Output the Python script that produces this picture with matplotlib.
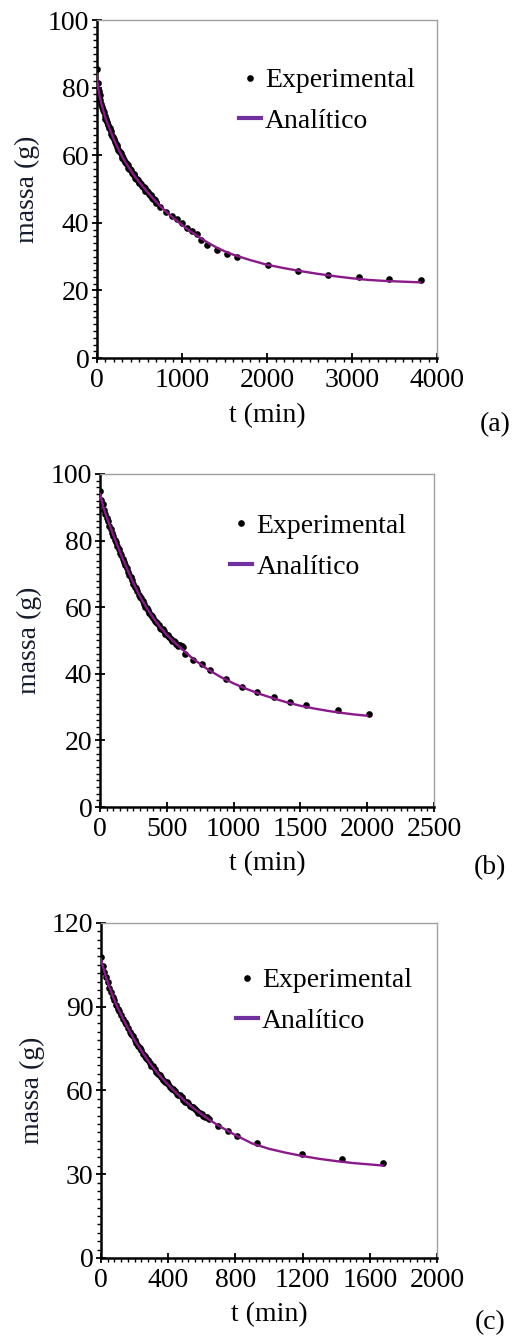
import matplotlib
matplotlib.use("Agg")
import matplotlib.pyplot as plt
from matplotlib.ticker import MultipleLocator

plt.rcParams['font.family'] = ['Liberation Serif', 'DejaVu Serif']

# (a) experimental
ta_exp = [0, 10, 20, 30, 40, 50, 60, 70, 80, 90, 100, 110, 120, 130, 140, 150, 160, 170, 180, 190,
          200, 210, 220, 230, 240, 250, 260, 270, 280, 290, 300, 310, 320, 330, 340, 350, 360, 370,
          380, 390, 400, 410, 420, 430, 440, 450, 460, 470, 480, 490, 500, 510, 520, 530, 540, 550,
          560, 570, 580, 590, 600, 610, 620, 630, 640, 650, 660, 670, 680, 690, 700,
          741, 808, 878, 937, 996, 1055, 1114, 1173, 1224, 1290, 1408, 1525, 1643,
          2008, 2369, 2722, 3082, 3439, 3808]
ma_exp = [85.5, 81.5, 79.0, 77.9, 76.2, 75.3, 74.2, 73.3, 72.9, 71.6, 70.8, 70.6, 69.9, 68.9, 68.2, 68.0, 67.3, 66.3, 65.7, 65.5,
          64.8, 63.9, 63.3, 63.1, 62.5, 61.7, 61.2, 61.1, 60.6, 59.8, 59.3, 59.2, 58.7, 58.0, 57.6, 57.5, 57.0, 56.3,
          56.0, 55.9, 55.5, 54.8, 54.5, 54.5, 54.1, 53.4, 53.1, 53.0, 52.7, 52.1, 51.8, 51.8, 51.5, 50.8, 50.5, 50.5,
          50.2, 49.5, 49.3, 49.3, 49.1, 48.4, 48.1, 48.1, 47.9, 47.3, 47.0, 47.0, 46.8, 46.1, 45.8,
          44.6, 43.3, 42.1, 41.1, 39.9, 38.4, 37.6, 36.6, 34.9, 33.3, 32.0, 30.8, 29.9,
          27.5, 25.8, 24.6, 23.9, 23.5, 23.1]
# (a) analytic
ta_an = [0, 5, 15, 35, 60, 100, 150, 200, 250, 300, 350, 400, 450, 500, 550, 600, 650, 700, 750, 800,
         900, 1000, 1100, 1200, 1300, 1400, 1500, 1600, 1800, 2000, 2200, 2400, 2600, 2800, 3000, 3200, 3400, 3600, 3800]
ma_an = [84.0, 82.0, 80.0, 77.0, 74.5, 71.0, 67.8, 64.6, 61.9, 59.5, 57.3, 55.4, 53.6, 52.0, 50.4, 48.9, 47.5, 46.1, 44.8, 43.6,
         41.4, 39.4, 37.5, 35.8, 34.2, 32.8, 31.6, 30.6, 29.0, 27.6, 26.6, 25.7, 24.9, 24.2, 23.6, 23.1, 22.8, 22.6, 22.4]

# (b) experimental
tb_exp = [0, 10, 20, 30, 40, 50, 60, 70, 80, 90, 100, 110, 120, 130, 140, 150, 160, 170, 180, 190,
          200, 210, 220, 230, 240, 250, 260, 270, 280, 290, 300, 310, 320, 330, 340, 350, 360, 370,
          380, 390, 400, 410, 420, 430, 440, 450, 460, 470, 480, 490, 500, 510, 520, 530, 540, 550,
          560, 570, 580, 590, 600, 610, 620,
          636, 698, 761, 823, 940, 1062, 1177, 1302, 1421, 1539, 1778, 2015]
mb_exp = [95.0, 92.3, 91.0, 89.2, 88.0, 86.8, 85.9, 84.5, 83.6, 82.3, 81.4, 80.3, 79.6, 78.3, 77.4, 76.4, 75.6, 74.4, 73.5, 72.8,
          71.9, 70.7, 69.8, 69.1, 68.2, 67.0, 66.2, 65.7, 64.9, 63.8, 63.0, 62.7, 61.9, 60.9, 60.2, 59.9, 59.2, 58.3,
          57.7, 57.5, 56.8, 56.0, 55.5, 55.3, 54.6, 53.9, 53.4, 53.3, 52.7, 52.0, 51.6, 51.6, 51.0, 50.4, 49.9, 49.9,
          49.4, 48.8, 48.4, 48.6, 48.6, 48.2, 48.1,
          45.8, 44.1, 42.8, 41.1, 38.4, 35.9, 34.5, 32.9, 31.6, 30.5, 29.1, 28.0]
# (b) analytic
tb_an = [0, 25, 50, 75, 100, 125, 150, 175, 200, 250, 300, 350, 400, 450, 500, 550, 600, 650, 700, 800,
         900, 1000, 1100, 1200, 1300, 1400, 1500, 1600, 1700, 1800, 1900, 2000]
mb_an = [94.0, 90.0, 87.0, 84.3, 81.6, 79.0, 76.5, 74.1, 71.8, 67.2, 63.2, 59.7, 56.7, 54.0, 51.7, 49.7, 47.9, 46.1, 44.4, 41.5,
         39.1, 37.1, 35.4, 33.9, 32.6, 31.4, 30.4, 29.6, 28.9, 28.3, 27.8, 27.4]

# (c) experimental
tc_exp = [0, 10, 20, 30, 40, 50, 60, 70, 80, 90, 100, 110, 120, 130, 140, 150, 160, 170, 180, 190,
          200, 210, 220, 230, 240, 250, 260, 270, 280, 290, 300, 310, 320, 330, 340, 350, 360, 370,
          380, 390, 400, 410, 420, 430, 440, 450, 460, 470, 480, 490, 500, 510, 520, 530, 540, 550,
          560, 570, 580, 590, 600, 610, 620, 630, 640,
          697, 753, 810, 929, 1198, 1436, 1680]
mc_exp = [107.8, 104.5, 102.3, 100.5, 98.9, 96.8, 95.2, 93.6, 92.4, 90.6, 89.3, 88.3, 87.2, 85.7, 84.5, 83.7, 82.5, 81.1, 80.1, 79.4,
          78.2, 76.9, 75.8, 75.3, 74.4, 73.1, 72.2, 71.8, 70.8, 69.7, 68.9, 68.6, 67.6, 66.6, 65.8, 65.5, 64.8, 63.8,
          63.1, 62.9, 62.2, 61.3, 60.6, 60.5, 59.8, 58.9, 58.2, 58.2, 57.5, 56.6, 56.0, 56.0, 55.4, 54.6, 54.0, 54.0,
          53.4, 52.6, 52.1, 52.1, 51.6, 50.9, 50.4, 50.4, 49.9,
          47.2, 45.5, 43.8, 41.2, 37.4, 35.5, 33.9]
# (c) analytic
tc_an = [0, 25, 50, 75, 100, 150, 200, 250, 300, 350, 400, 450, 500, 550, 600, 650, 700, 800, 900, 1000,
         1100, 1200, 1300, 1400, 1500, 1600, 1680]
mc_an = [107.0, 101.5, 97.0, 93.0, 89.5, 83.5, 78.0, 73.3, 69.0, 65.3, 62.0, 59.0, 56.2, 53.7, 51.4, 49.3, 47.4, 44.0, 41.0, 39.1,
         37.7, 36.5, 35.5, 34.7, 34.0, 33.5, 33.1]

panels = [
    dict(t_exp=ta_exp, m_exp=ma_exp, t_an=ta_an, m_an=ma_an, xmax=4000, xmaj=1000, xmin=100,
         ymax=100, ymaj=20, ymin=2, rect=[0.189, 0.7322, 0.663, 0.2528], leg=(0.417, 0.858),
         ylab=-0.203, tag="(a)", tagpos=(495, 425)),
    dict(t_exp=tb_exp, m_exp=mb_exp, t_an=tb_an, m_an=mb_an, xmax=2500, xmaj=500, xmin=50,
         ymax=100, ymaj=20, ymin=2, rect=[0.195, 0.3964, 0.651, 0.2491], leg=(0.389, 0.881),
         ylab=-0.21, tag="(b)", tagpos=(490, 868)),
    dict(t_exp=tc_exp, m_exp=mc_exp, t_an=tc_an, m_an=mc_an, xmax=2000, xmaj=400, xmin=40,
         ymax=120, ymaj=30, ymin=3, rect=[0.1969, 0.0591, 0.655, 0.2506], leg=(0.401, 0.866),
         ylab=-0.205, tag="(c)", tagpos=(490, 1323)),
]

W, H = 513, 1337
fig = plt.figure(figsize=(W / 100, H / 100), dpi=100)
fs = 20
purple = '#8a1a8a'

for p in panels:
    ax = fig.add_axes(p['rect'])
    ax.plot(p['t_exp'], p['m_exp'], 'o', color='black', ms=4.8, mew=0, label='Experimental', zorder=2)
    ax.plot(p['t_an'], p['m_an'], '-', color=purple, lw=1.7, label='Analítico', zorder=3)
    ax.set_xlim(0, p['xmax'])
    ax.set_ylim(0, p['ymax'])
    ax.xaxis.set_major_locator(MultipleLocator(p['xmaj']))
    ax.xaxis.set_minor_locator(MultipleLocator(p['xmin']))
    ax.yaxis.set_major_locator(MultipleLocator(p['ymaj']))
    ax.yaxis.set_minor_locator(MultipleLocator(p['ymin']))
    ax.tick_params(which='major', direction='inout', length=7, width=1.3, labelsize=fs)
    ax.tick_params(axis='x', which='major', pad=4)
    ax.tick_params(axis='y', which='major', pad=2)
    ax.tick_params(which='minor', direction='out', length=3, width=1.0)
    for s in ['left', 'bottom']:
        ax.spines[s].set_linewidth(1.8)
        ax.spines[s].set_color('black')
    for s in ['top', 'right']:
        ax.spines[s].set_linewidth(1.0)
        ax.spines[s].set_color('#a0a0a0')
    ax.set_xlabel('t (min)', fontsize=fs)
    ax.set_ylabel('massa (g)', fontsize=fs, color='#141c2c')
    ax.xaxis.set_label_coords(0.5, -0.17)
    ax.yaxis.set_label_coords(p['ylab'], 0.5)
    ax.xaxis.label.set_va('center')
    ax.yaxis.label.set_va('center')
    leg = ax.legend(loc='upper left', bbox_to_anchor=p['leg'], frameon=False, fontsize=fs,
                    handlelength=0.8, handletextpad=0.15, labelspacing=0.55, borderpad=0,
                    borderaxespad=0, markerscale=1.0)
    leg.get_lines()[1].set_linewidth(3)
    leg.get_lines()[1].set_color('#7030a0')
    fig.text(p['tagpos'][0] / W, 1 - p['tagpos'][1] / H, p['tag'], fontsize=fs,
             ha='center', va='center')

fig.savefig('out.png', dpi=100)
